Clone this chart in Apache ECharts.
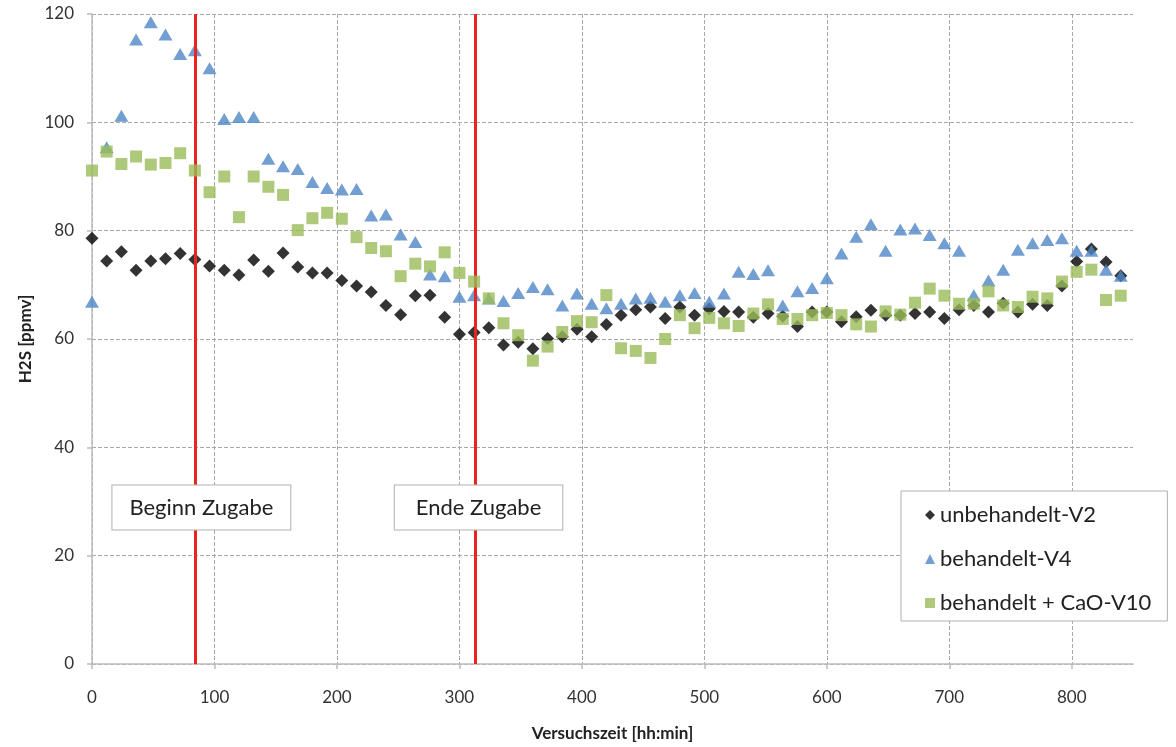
<!DOCTYPE html>
<html>
<head>
<meta charset="utf-8">
<script src="https://cdn.jsdelivr.net/npm/echarts@6/dist/echarts.min.js"></script>
<style>
html,body{margin:0;padding:0;background:#fff;}
#c{width:1176px;height:747px;}
</style>
</head>
<body>
<div id="c"></div>
<script>
// time points [min]
const times = [0,12,24,36,48,60,72,84,96,108,120,132,144,156,168,180,192,204,216,228,240,252,264,276,288,300,312,324,336,348,360,372,384,396,408,420,432,444,456,468,480,492,504,516,528,540,552,564,576,588,600,612,624,636,648,660,672,684,696,708,720,732,744,756,768,780,792,804,816,828,840];

const unbehandeltV2 = [78.6,74.4,76.1,72.7,74.4,74.8,75.8,74.7,73.5,72.7,71.8,74.6,72.5,75.9,73.3,72.2,72.2,70.8,69.8,68.7,66.2,64.5,68.0,68.1,64.0,60.9,61.2,62.1,58.9,59.4,58.2,60.1,60.4,61.8,60.4,62.7,64.4,65.4,65.9,63.8,65.9,64.4,65.6,65.1,65.0,64.0,64.7,64.2,62.3,65.0,65.0,63.2,64.1,65.3,64.4,64.4,64.7,65.0,63.8,65.4,66.2,65.0,66.6,65.0,66.4,66.2,69.8,74.3,76.6,74.2,71.7];

const behandeltV4 = [66.9,95.4,101.2,115.3,118.5,116.2,112.6,113.3,110.0,100.6,101.0,101.0,93.3,91.9,91.4,89.0,87.9,87.6,87.7,82.8,83.0,79.3,77.9,71.9,71.6,67.8,68.1,67.5,67.0,68.5,69.6,69.2,66.2,68.4,66.5,65.7,66.5,67.5,67.6,66.9,68.1,68.5,66.9,68.4,72.4,72.0,72.7,66.2,68.8,69.4,71.2,75.8,78.9,81.2,76.3,80.2,80.4,79.2,77.7,76.3,68.1,70.8,72.8,76.5,77.7,78.3,78.6,76.3,76.3,72.8,71.7];

const behandeltCaOV10 = [91.1,94.6,92.3,93.7,92.2,92.5,94.3,91.1,87.1,90.0,82.5,90.0,88.1,86.6,80.1,82.3,83.3,82.2,78.8,76.8,76.2,71.6,73.9,73.4,76.0,72.2,70.6,67.5,62.9,60.7,56.0,58.6,61.3,63.3,63.1,68.1,58.3,57.8,56.5,60.0,64.4,62.0,63.9,62.9,62.4,64.7,66.4,63.7,63.7,64.4,64.8,64.4,62.7,62.3,65.1,64.5,66.7,69.3,68.0,66.5,66.5,68.8,66.2,65.9,67.8,67.5,70.6,72.4,72.8,67.2,68.0];

const xTickLabels = [0,100,200,300,400,500,600,700,800];
const yTickLabels = [0,20,40,60,80,100,120];

const seriesNames = ['unbehandelt-V2','behandelt-V4','behandelt + CaO-V10'];

// event markers [min]
const eventTimes = [84, 313];
const eventLabels = ['Beginn Zugabe', 'Ende Zugabe'];
const eventLabelPos = [[89.3, 28.9], [315.6, 28.9]];

function pairs(vals){ return times.map((t,i)=>[t, vals[i]]); }

const FONT = 'Lato, "Open Sans", sans-serif';
const chart = echarts.init(document.getElementById('c'), null, {renderer:'canvas'});

const boxPad = [[11, 17, 11, 17], [11, 21, 11, 21]];

chart.setOption({
  animation: false,
  backgroundColor: '#fff',
  textStyle: {fontFamily: FONT},
  grid: {left: 92, right: 43, top: 14, bottom: 80, containLabel: false},
  xAxis: {
    type: 'value', min: 0, max: 850, interval: 100,
    name: 'Versuchszeit [hh:min]', nameLocation: 'middle', nameGap: 61,
    nameTextStyle: {fontFamily: FONT, fontWeight: 'bold', fontSize: 17, color: '#222'},
    axisLine: {show: true, onZero: false, lineStyle: {color: '#bcbcbc', width: 1.5}},
    axisTick: {show: true, length: 5, customValues: xTickLabels, lineStyle: {color: '#bcbcbc', width: 1.5}},
    axisLabel: {customValues: xTickLabels, fontFamily: FONT, fontSize: 17, color: '#333', margin: 25},
    splitLine: {show: true, lineStyle: {color: '#a8a8a8', type: [4, 2], width: 1}}
  },
  yAxis: {
    type: 'value', min: 0, max: 120, interval: 20,
    name: 'H2S [ppmv]', nameLocation: 'middle', nameGap: 58,
    nameTextStyle: {fontFamily: FONT, fontWeight: 'bold', fontSize: 17, color: '#222'},
    axisLine: {show: true, lineStyle: {color: '#bcbcbc', width: 1.5}},
    axisTick: {show: true, length: 5, lineStyle: {color: '#bcbcbc', width: 1.5}},
    axisLabel: {customValues: yTickLabels, fontFamily: FONT, fontSize: 17, color: '#333', margin: 18},
    splitLine: {show: true, lineStyle: {color: '#a8a8a8', type: [4, 2], width: 1}}
  },
  legend: {
    orient: 'vertical', left: 901, top: 491,
    backgroundColor: '#fff', borderColor: '#b0b0b0', borderWidth: 1,
    padding: [12, 16, 6, 24], itemGap: 20, itemWidth: 10, itemHeight: 10,
    textStyle: {fontFamily: FONT, fontSize: 22, color: '#222', lineHeight: 24},
    data: [
      {name: seriesNames[0], icon: 'diamond'},
      {name: seriesNames[1], icon: 'triangle'},
      {name: seriesNames[2], icon: 'rect'}
    ]
  },
  series: [
    {
      name: 'events', type: 'line', data: [], z: 1, silent: true,
      markLine: {
        symbol: 'none', silent: true, animation: false,
        label: {show: false},
        lineStyle: {color: '#e8261f', width: 3, type: 'solid'},
        data: eventTimes.map(t => ({xAxis: t}))
      }
    },
    {
      name: seriesNames[0], type: 'scatter', z: 3, symbol: 'diamond', symbolSize: 13,
      itemStyle: {color: '#000'}, data: pairs(unbehandeltV2)
    },
    {
      name: seriesNames[1], type: 'scatter', z: 4, symbol: 'triangle', symbolSize: [14, 12],
      itemStyle: {color: '#4f86c6'}, data: pairs(behandeltV4)
    },
    {
      name: seriesNames[2], type: 'scatter', z: 5, symbol: 'rect', symbolSize: 12,
      itemStyle: {color: '#9bbb59'}, data: pairs(behandeltCaOV10)
    },
    {
      name: 'labels', type: 'scatter', z: 10, silent: true, data: [],
      markPoint: {
        symbol: 'rect', symbolSize: 0, silent: true, animation: false,
        label: {
          show: true, position: 'inside', formatter: p => p.name,
          fontFamily: FONT, fontSize: 22, lineHeight: 22, color: '#222',
          backgroundColor: '#fff', borderColor: '#b0b0b0', borderWidth: 1
        },
        data: eventLabels.map((n, i) => ({name: n, coord: eventLabelPos[i], label: {padding: boxPad[i]}}))
      }
    }
  ]
});
</script>
</body>
</html>
